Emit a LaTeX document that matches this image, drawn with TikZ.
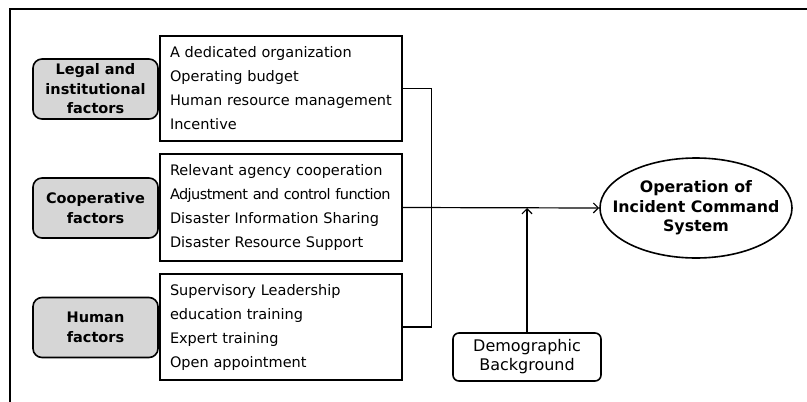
\documentclass[tikz,border=0pt]{standalone}
\usepackage{fontspec}
\setmainfont{DejaVu Sans}
\usetikzlibrary{shapes,arrows.meta}
\tikzstyle{factor}=[rectangle,rounded corners=9pt,draw=black,fill=black!16,line width=1.6pt,minimum width=125pt,minimum height=60pt,align=center,font=\bfseries\fontsize{14.5}{19.5}\selectfont]
\tikzstyle{items}=[rectangle,draw=black,line width=1.6pt,minimum width=242pt,text width=222pt,align=left,inner sep=0pt,font=\fontsize{14.5}{24}\selectfont]
\tikzstyle{ics}=[ellipse,draw=black,line width=1.6pt,minimum width=192pt,minimum height=100pt,inner xsep=-16pt,inner ysep=2pt,align=center,font=\bfseries\fontsize{15.8}{19.5}\selectfont]
\tikzstyle{demo}=[rectangle,rounded corners=6pt,draw=black,line width=1.6pt,minimum width=148pt,minimum height=48pt,align=center,font=\fontsize{16}{19}\selectfont]

\begin{document}
\begin{tikzpicture}[x=1pt,y=-1pt]
\useasboundingbox (0,0) rectangle (807,402);
\draw[line width=2.2pt] (10,403) -- (10,9) -- (808,9);
\node[factor] (legal) at (95.5,89) {Legal and\\institutional\\factors};
\node[factor] (coop)  at (95.5,208) {Cooperative\\factors};
\node[factor] (human) at (95.5,327.5) {Human\\factors};
\node[items,minimum height=105pt] (lst1) at (281,88.5) {A dedicated organization\\Operating budget\\\mbox{Human resource management}\\Incentive};
\node[items,minimum height=107pt] (lst2) at (281,207.5) {\mbox{Relevant agency cooperation}\\\mbox{\addfontfeatures{LetterSpace=-4}Adjustment and control function}\\\mbox{Disaster Information Sharing}\\\mbox{Disaster Resource Support}};
\node[items,minimum height=106pt] (lst3) at (281,327) {Supervisory Leadership\\education training\\Expert training\\Open appointment};
\node[ics] (sys) at (696,208) {Operation of\\Incident Command\\System};
\node[demo] (bg) at (527,357) {Demographic\\Background};
\draw[line width=1.2pt] (lst1.east) -- ++(29,0) |- (lst3.east);
\draw[->,>={Straight Barb[length=5pt,width=10pt]},line width=1.2pt] (lst2.east) -- (sys.west);
\draw[->,>={Straight Barb[length=5pt,width=10pt]},line width=1.2pt] (bg.north) -- (bg.north |- sys.west);
\end{tikzpicture}
\end{document}
